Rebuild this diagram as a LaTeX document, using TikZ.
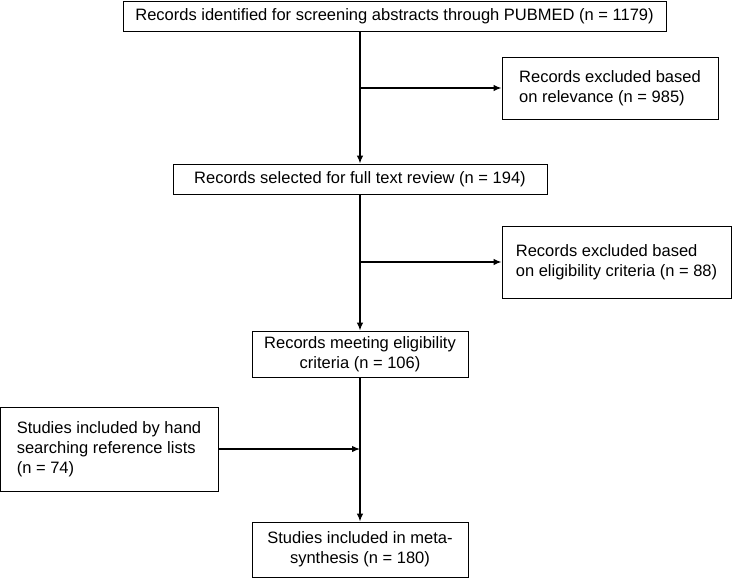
\documentclass[tikz,border=0pt]{standalone}
\usepackage{fontspec}
\setmainfont{Liberation Sans}
\usetikzlibrary{arrows.meta}
\begin{document}
\begin{tikzpicture}[x=1pt,y=-1pt,
  box/.style={draw,line width=0.9pt,inner sep=0pt,font=\fontsize{16.5}{20}\selectfont},
  arr/.style={line width=1.3pt,-{Latex[length=8pt,width=6.5pt]}}]
\useasboundingbox (0,0) rectangle (732,579);
\node[box,minimum width=543,minimum height=30] (ident) at (394.5,16) {Records identified for screening abstracts through PUBMED (n = 1179)};
\node[box,align=left,minimum width=216,minimum height=62] (excla) at (610,88) {Records excluded based\\on relevance (n = 985)};
\node[box,minimum width=374,minimum height=30] (select) at (360,179) {Records selected for full text review (n = 194)};
\node[box,align=left,minimum width=229,minimum height=72] (exclb) at (616.5,262) {Records excluded based\\on eligibility criteria (n = 88)};
\node[box,align=center,minimum width=216,minimum height=46] (meet) at (360,354) {Records meeting eligibility\\criteria (n = 106)};
\node[box,align=left,minimum width=218,minimum height=84] (hand) at (109,449) {Studies included by hand\\searching reference lists\\(n = 74)};
\node[box,align=center,minimum width=216,minimum height=55] (incl) at (360,549.5) {Studies included in meta-\\synthesis (n = 180)};
\draw[arr] (ident.south -| select.north) -- (select.north);
\draw[arr] (excla.west -| select.north) -- (excla.west);
\draw[arr] (select.south) -- (meet.north);
\draw[arr] (exclb.west -| select.south) -- (exclb.west);
\draw[arr] (meet.south) -- (incl.north);
\draw[arr] (hand.east) -- (hand.east -| meet.south);
\end{tikzpicture}
\end{document}
